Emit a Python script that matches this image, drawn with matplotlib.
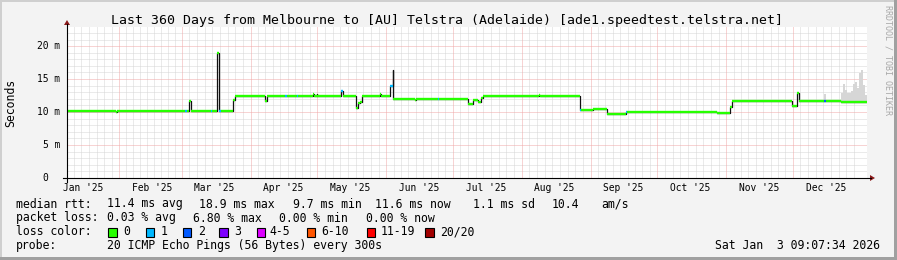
import matplotlib
matplotlib.use('Agg')
import matplotlib.pyplot as plt
import numpy as np
from datetime import datetime, timedelta
from matplotlib.lines import Line2D
from matplotlib.patches import Rectangle, Polygon

# ---------------- data ----------------
title = "Last 360 Days from Melbourne to [AU] Telstra (Adelaide) [ade1.speedtest.telstra.net]"
start = datetime(2025, 1, 8, 9, 7, 34)
span_days = 360
ymax_ms = 22.9
y_ticks = [0, 5, 10, 15, 20]
y_tick_labels = ["0  ", "5 m", "10 m", "15 m", "20 m"]
month_starts = [(2025, m) for m in range(1, 13)] + [(2026, 1)]
month_labels = ["Jan '25", "Feb '25", "Mar '25", "Apr '25", "May '25", "Jun '25",
                "Jul '25", "Aug '25", "Sep '25", "Oct '25", "Nov '25", "Dec '25"]

# median rtt as steps: start day (since start), value (ms), loss class index
seg_day = [0, 22.05, 22.7, 53.3, 53.8, 54.9, 55.6, 64.8, 65.25, 67.6, 68.3, 68.6, 69.3,
           74.7, 75.6, 89.3, 89.8, 98.1, 98.8, 103.3, 103.95, 110.7, 111.15, 112.3, 112.7,
           123.5, 124.2, 130.05, 130.95, 131.85, 132.75, 140.85, 141.3, 145.35, 146.5, 146.9,
           156.4, 157.05, 166.95, 167.4, 180.45, 182.7, 184.95, 186.5, 187.2, 212.4, 212.85,
           230.85, 231.3, 236.7, 243.0, 251.55, 252.0, 280.6, 281.0, 292.4, 298.35, 299.25,
           326.25, 328.5, 329.4, 340.65, 341.55, 348.3]
seg_ms = [10.15, 9.95, 10.15, 10.15, 10.15, 11.7, 10.15, 10.15, 10.15, 18.9, 16.0, 10.15, 10.15,
          11.8, 12.45, 11.75, 12.45, 12.45, 12.45, 12.45, 12.45, 12.75, 12.45, 12.8, 12.45,
          13.2, 12.45, 10.6, 11.3, 11.6, 12.45, 12.7, 12.45, 13.9, 16.4, 12.0,
          11.8, 12.0, 12.0, 12.0, 11.2, 11.9, 11.6, 12.2, 12.45, 12.55, 12.45,
          10.3, 10.3, 10.45, 9.7, 10.0, 10.0, 10.0, 10.0, 9.85, 10.8, 11.7,
          10.9, 12.9, 11.7, 11.7, 11.7, 11.5]
seg_loss = [0, 0, 0, 1, 0, 0, 0, 1, 0, 0, 1, 1, 0,
            0, 0, 0, 0, 1, 0, 1, 0, 0, 0, 0, 0,
            1, 0, 0, 0, 0, 0, 0, 0, 1, 0, 0,
            0, 0, 1, 0, 0, 0, 0, 0, 0, 0, 0,
            1, 0, 0, 0, 1, 0, 1, 0, 0, 0, 0,
            0, 0, 0, 2, 0, 0]

# smoke (spread of pings) where visible
smoke_day = [340.65, 341.55, 348.3, 349.2, 350.1, 351.0, 352.8, 353.9, 354.6, 355.5,
             356.4, 357.3, 358.2, 359.1]
smoke_lo = [11.7, 11.7, 11.5, 11.5, 11.5, 11.5, 11.5, 11.5, 11.5, 11.5, 11.5, 11.5, 11.5, 11.5]
smoke_hi = [12.7, 11.7, 12.9, 14.3, 13.4, 12.9, 13.2, 14.3, 14.5, 13.6, 15.9, 16.4, 14.1, 12.6]

loss_names = ["0", "1", "2", "3", "4-5", "6-10", "11-19", "20/20"]
loss_colors = ["#26ff00", "#00b8ff", "#0059ff", "#7e00ff", "#dd00ff", "#ff5500", "#ff0000", "#a10000"]

stats_rtt = ["median rtt:", "11.4 ms avg", "18.9 ms max", "9.7 ms min", "11.6 ms now",
             "1.1 ms sd", "10.4", "am/s"]
stats_loss = ["packet loss:", "0.03 % avg", "6.80 % max", "0.00 % min", "0.00 % now"]
probe_text = ["probe:", "20 ICMP Echo Pings (56 Bytes) every 300s"]
stamp = "Sat Jan  3 09:07:34 2026"

# ---------------- layout ----------------
W, H = 897, 260
MONO = 'DejaVu Sans Mono'
fig = plt.figure(figsize=(W / 100, H / 100), dpi=100, facecolor='#f3f3f3')

def fx(x):
    return x / W

def fy(y):
    return 1 - y / H

X0, X1, Y0, Y1 = 67, 867, 27, 178
ax = fig.add_axes([fx(X0), fy(Y1), (X1 - X0) / W, (Y1 - Y0) / H])
ax.set_facecolor('white')
ax.set_xlim(0, span_days)
ax.set_ylim(0, ymax_ms)
for s in ax.spines.values():
    s.set_visible(False)
ax.set_xticks([])
ax.set_yticks([])

dot = (0, (1, 1))
minor_c = '#d6d6d6'
major_c = '#f0a8a8'

# horizontal grid
for v in range(0, 23):
    if v % 5 == 0:
        ax.axhline(v, color=major_c, lw=0.72, ls=dot, zorder=1)
    else:
        ax.axhline(v, color=minor_c, lw=0.72, ls=dot, zorder=0.5)

def dday(dt):
    return (dt - start).total_seconds() / 86400.0

# vertical grid: months (major) each split in 9 minor parts
mdays = [dday(datetime(yy, mm, 1)) for (yy, mm) in month_starts]
for a, b in zip(mdays[:-1], mdays[1:]):
    for k in range(1, 9):
        t = a + (b - a) * k / 9
        if 0 < t < span_days:
            ax.axvline(t, color=minor_c, lw=0.72, ls=dot, zorder=0.5)
for md in mdays[1:-1]:
    ax.axvline(md, color=major_c, lw=0.72, ls=dot, zorder=1)

# smoke
ax.fill_between(smoke_day + [span_days], smoke_lo + [smoke_lo[-1]], smoke_hi + [smoke_hi[-1]],
                step='post', color='#d6d6d6', lw=0, zorder=2)

# median: black steps + coloured horizontal pieces
xs = seg_day + [span_days]
ys = seg_ms + [seg_ms[-1]]
ax.step(xs, ys, where='post', color='#111111', lw=0.9, zorder=3)
ends = seg_day[1:] + [span_days]
ax.hlines(seg_ms, seg_day, ends, colors=[loss_colors[l] for l in seg_loss], lw=1.7, zorder=4)

# axes lines + arrows
fig.add_artist(Line2D([fx(X0 - 4), fx(X1 + 4)], [fy(Y1), fy(Y1)], color='black', lw=0.8))
fig.add_artist(Line2D([fx(X0), fx(X0)], [fy(Y1 + 4), fy(Y0 - 3)], color='black', lw=0.8))
fig.add_artist(Polygon([[fx(X1 + 3), fy(Y1 - 3)], [fx(X1 + 3), fy(Y1 + 3)], [fx(X1 + 8), fy(Y1)]],
                       closed=True, color='#8b1a1a', lw=0))
fig.add_artist(Polygon([[fx(X0 - 3), fy(Y0 - 2)], [fx(X0 + 3), fy(Y0 - 2)], [fx(X0), fy(Y0 - 7)]],
                       closed=True, color='#8b1a1a', lw=0))

# tick labels
tick_fs = 6.9
for v, lab in zip(y_ticks, y_tick_labels):
    fig.text(fx(60), fy(Y1 - v * (Y1 - Y0) / ymax_ms), lab, ha='right', va='center',
             fontsize=tick_fs, family=MONO, color='black')
for md, lab in zip(mdays[:-1], month_labels):
    xc = X0 + (md + 14.8) * (X1 - X0) / span_days
    fig.text(fx(xc), fy(191), lab, ha='center', va='baseline', fontsize=tick_fs,
             family=MONO, color='black')

# title, labels
fig.text(fx(447), fy(24), title, ha='center', va='baseline', fontsize=9.5, family=MONO, color='black')
fig.text(fx(11), fy(103), "Seconds", ha='center', va='center', rotation=90, fontsize=8.3,
         family=MONO, color='black')
fig.text(fx(888), fy(60), "RRDTOOL / TOBI OETIKER", ha='center', va='center', rotation=270,
         fontsize=6, family=MONO, color='#a8a8a8')

# legend
lf = 8.3
rtt_x = [16, 107, 199, 293, 375, 473, 552, 601]
for x, t in zip(rtt_x, stats_rtt):
    fig.text(fx(x), fy(207.5), t, ha='left', va='baseline', fontsize=lf, family=MONO)
loss_x = [16, 107, 193, 279, 366]
for x, t in zip(loss_x, stats_loss):
    fig.text(fx(x), fy(221.5), t, ha='left', va='baseline', fontsize=lf, family=MONO)
fig.text(fx(16), fy(235.3), "loss color:", ha='left', va='baseline', fontsize=lf, family=MONO)
box_x = [108.3, 145.7, 182.7, 219.3, 256.7, 306.7, 366.7, 425]
text_x = [123.3, 160.7, 197.7, 234.3, 269.5, 321.7, 381, 440]
for bx, tx, name, col in zip(box_x, text_x, loss_names, loss_colors):
    fig.add_artist(Rectangle((fx(bx), fy(236.5)), 8.5 / W, 9 / H, facecolor=col, edgecolor='black', lw=0.8))
    fig.text(fx(tx), fy(235.3), name, ha='left', va='baseline', fontsize=lf, family=MONO)
fig.text(fx(16), fy(249.3), probe_text[0], ha='left', va='baseline', fontsize=lf, family=MONO)
fig.text(fx(107), fy(249.3), probe_text[1], ha='left', va='baseline', fontsize=lf, family=MONO)
fig.text(fx(880), fy(249.3), stamp, ha='right', va='baseline', fontsize=lf, family=MONO)

# 3D frame
fig.add_artist(Rectangle((0, fy(2)), 1, 2 / H, facecolor='#cfcfcf', lw=0))
fig.add_artist(Rectangle((0, 0), 2 / W, 1, facecolor='#cfcfcf', lw=0))
fig.add_artist(Rectangle((0, 0), 1, 3 / H, facecolor='#a0a0a0', lw=0))
fig.add_artist(Rectangle((fx(W - 3), 0), 3 / W, 1, facecolor='#a0a0a0', lw=0))

fig.savefig('out.png', dpi=100, facecolor=fig.get_facecolor())
